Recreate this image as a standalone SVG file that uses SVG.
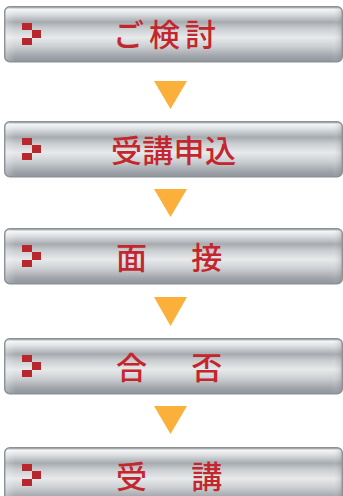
<svg xmlns="http://www.w3.org/2000/svg" xmlns:xlink="http://www.w3.org/1999/xlink" width="343" height="496" viewBox="0 0 343 496">
<defs>
<linearGradient id="metal" x1="0" y1="0" x2="0" y2="1">
<stop offset="0" stop-color="#a4a9ae"/>
<stop offset="0.05" stop-color="#f3f4f5"/>
<stop offset="0.13" stop-color="#dde0e2"/>
<stop offset="0.28" stop-color="#a6abb0"/>
<stop offset="0.4" stop-color="#cbced1"/>
<stop offset="0.56" stop-color="#e7e9eb"/>
<stop offset="0.72" stop-color="#cdd0d3"/>
<stop offset="0.9" stop-color="#a0a5ab"/>
<stop offset="1" stop-color="#8f959b"/>
</linearGradient>
<linearGradient id="edge" x1="0" y1="0" x2="1" y2="0">
<stop offset="0" stop-color="#ffffff" stop-opacity="0.25"/>
<stop offset="0.03" stop-color="#ffffff" stop-opacity="0"/>
<stop offset="0.97" stop-color="#ffffff" stop-opacity="0"/>
<stop offset="1" stop-color="#6f767d" stop-opacity="0.25"/>
</linearGradient>
<g id="btn">
<rect x="4.75" y="0.75" width="337.5" height="55" rx="5" ry="5" fill="url(#metal)" stroke="#8b9298" stroke-width="1.5"/>
<rect x="5.5" y="1.5" width="336" height="53.5" rx="4.5" ry="4.5" fill="url(#edge)"/>
<rect x="22" y="17" width="10" height="7" fill="#b8272e"/>
<rect x="32" y="24" width="9" height="8" fill="#b8272e"/>
<rect x="22" y="32" width="10" height="7" fill="#b8272e"/>
</g>
<style>
.lbl{font-family:"Noto Sans CJK JP","Noto Sans CJK SC",sans-serif;font-size:31px;font-weight:500;fill:#c4262e;}
.arr{fill:#fbb03b;}
</style>
</defs>
<g id="connectors">
<polygon class="arr" points="154,81 187,81 170.5,109"/>
<polygon class="arr" points="154,189 187,189 170.5,217"/>
<polygon class="arr" points="154,297 187,297 170.5,326"/>
<polygon class="arr" points="154,406 187,406 170.5,434"/>
</g>
<g id="step1">
<use xlink:href="#btn" x="0" y="6"/>
<text class="lbl" x="113" y="46" style="letter-spacing:5px">ご検討</text>
</g>
<g id="step2">
<use xlink:href="#btn" x="0" y="121"/>
<text class="lbl" x="111" y="161.5" style="letter-spacing:0.3px">受講申込</text>
</g>
<g id="step3">
<use xlink:href="#btn" x="0" y="228"/>
<text class="lbl" x="116" y="268.5" style="letter-spacing:6.6px">面　接</text>
</g>
<g id="step4">
<use xlink:href="#btn" x="0" y="338"/>
<text class="lbl" x="116" y="378.5" style="letter-spacing:6.6px">合　否</text>
</g>
<g id="step5">
<use xlink:href="#btn" x="0" y="447"/>
<text class="lbl" x="116" y="487.5" style="letter-spacing:6.6px">受　講</text>
</g>
</svg>
